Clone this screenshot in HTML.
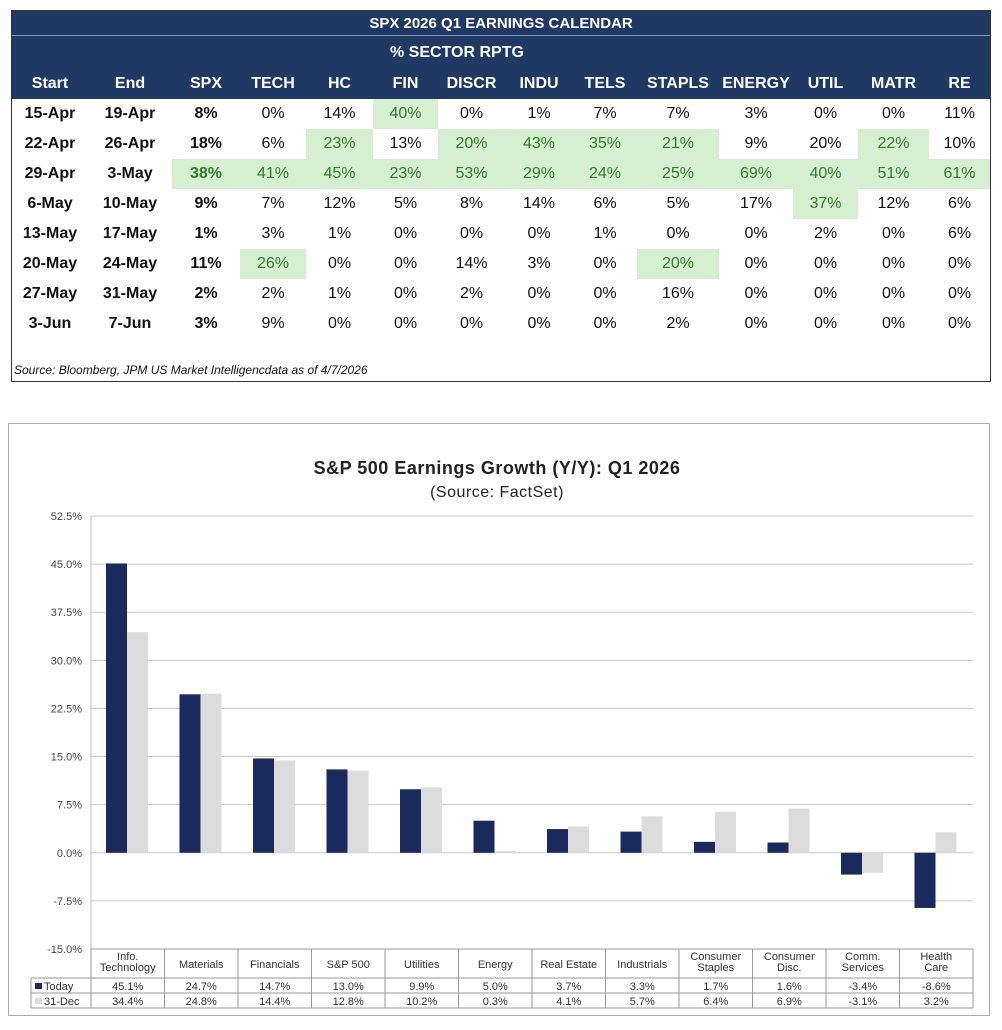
<!DOCTYPE html>
<html><head><meta charset="utf-8">
<style>
body{margin:0;width:1002px;height:1030px;background:#fff;position:relative;font-family:"Liberation Sans",Arial,sans-serif;overflow:hidden}
#cal{position:absolute;left:11px;top:10px;width:980px;height:372px;border:1px solid #333;box-sizing:border-box}
#cal table{border-collapse:collapse;table-layout:fixed;width:978px}
#cal td{text-align:center;font-size:16px;height:30px;padding:0;color:#111}
.hd{background:#1f3864;color:#fff!important;font-weight:bold}
.g{background:#d6efd0;color:#2f7a2b!important}
.b{font-weight:bold}
#src{position:absolute;left:2px;top:352px;font-size:12px;font-style:italic;color:#111}
#chart{position:absolute;left:0;top:0}
</style></head><body>
<div id="cal">
<table>
<colgroup><col style="width:76px"><col style="width:84px"><col style="width:68px"><col style="width:66px"><col style="width:67px"><col style="width:65px"><col style="width:67px"><col style="width:68px"><col style="width:64px"><col style="width:82px"><col style="width:74px"><col style="width:65px"><col style="width:71px"><col style="width:61px"></colgroup>
<tr><td colspan="14" class="hd" style="height:24px;font-size:15px;border-bottom:1px solid #8a9bbd">SPX 2026 Q1 EARNINGS CALENDAR</td></tr>
<tr><td colspan="3" class="hd" style="height:33px"></td><td colspan="11" class="hd" style="height:33px;text-align:left;padding-left:150px">% SECTOR RPTG</td></tr>
<tr class="hd"><td class="hd" style="height:25px">Start</td><td class="hd">End</td><td class="hd">SPX</td><td class="hd">TECH</td><td class="hd">HC</td><td class="hd">FIN</td><td class="hd">DISCR</td><td class="hd">INDU</td><td class="hd">TELS</td><td class="hd">STAPLS</td><td class="hd">ENERGY</td><td class="hd">UTIL</td><td class="hd">MATR</td><td class="hd">RE</td></tr>
<tr><td class="b">15-Apr</td><td class="b">19-Apr</td><td class="b">8%</td><td>0%</td><td>14%</td><td class="g">40%</td><td>0%</td><td>1%</td><td>7%</td><td>7%</td><td>3%</td><td>0%</td><td>0%</td><td>11%</td></tr>
<tr><td class="b">22-Apr</td><td class="b">26-Apr</td><td class="b">18%</td><td>6%</td><td class="g">23%</td><td>13%</td><td class="g">20%</td><td class="g">43%</td><td class="g">35%</td><td class="g">21%</td><td>9%</td><td>20%</td><td class="g">22%</td><td>10%</td></tr>
<tr><td class="b">29-Apr</td><td class="b">3-May</td><td class="g b">38%</td><td class="g">41%</td><td class="g">45%</td><td class="g">23%</td><td class="g">53%</td><td class="g">29%</td><td class="g">24%</td><td class="g">25%</td><td class="g">69%</td><td class="g">40%</td><td class="g">51%</td><td class="g">61%</td></tr>
<tr><td class="b">6-May</td><td class="b">10-May</td><td class="b">9%</td><td>7%</td><td>12%</td><td>5%</td><td>8%</td><td>14%</td><td>6%</td><td>5%</td><td>17%</td><td class="g">37%</td><td>12%</td><td>6%</td></tr>
<tr><td class="b">13-May</td><td class="b">17-May</td><td class="b">1%</td><td>3%</td><td>1%</td><td>0%</td><td>0%</td><td>0%</td><td>1%</td><td>0%</td><td>0%</td><td>2%</td><td>0%</td><td>6%</td></tr>
<tr><td class="b">20-May</td><td class="b">24-May</td><td class="b">11%</td><td class="g">26%</td><td>0%</td><td>0%</td><td>14%</td><td>3%</td><td>0%</td><td class="g">20%</td><td>0%</td><td>0%</td><td>0%</td><td>0%</td></tr>
<tr><td class="b">27-May</td><td class="b">31-May</td><td class="b">2%</td><td>2%</td><td>1%</td><td>0%</td><td>2%</td><td>0%</td><td>0%</td><td>16%</td><td>0%</td><td>0%</td><td>0%</td><td>0%</td></tr>
<tr><td class="b">3-Jun</td><td class="b">7-Jun</td><td class="b">3%</td><td>9%</td><td>0%</td><td>0%</td><td>0%</td><td>0%</td><td>0%</td><td>2%</td><td>0%</td><td>0%</td><td>0%</td><td>0%</td></tr>
</table>
<div id="src">Source: Bloomberg, JPM US Market Intelligencdata as of 4/7/2026</div>
</div>
<svg id="chart" width="1002" height="1030"></svg>
<script>
const categories=["Info.|Technology","Materials","Financials","S&P 500","Utilities","Energy","Real Estate","Industrials","Consumer|Staples","Consumer|Disc.","Comm.|Services","Health|Care"];
const todayVals=[45.1,24.7,14.7,13.0,9.9,5.0,3.7,3.3,1.7,1.6,-3.4,-8.6];
const decVals=[34.4,24.8,14.4,12.8,10.2,0.3,4.1,5.7,6.4,6.9,-3.1,3.2];
const todayLabels=["45.1%","24.7%","14.7%","13.0%","9.9%","5.0%","3.7%","3.3%","1.7%","1.6%","-3.4%","-8.6%"];
const decLabels=["34.4%","24.8%","14.4%","12.8%","10.2%","0.3%","4.1%","5.7%","6.4%","6.9%","-3.1%","3.2%"];
const yTicks=[52.5,45,37.5,30,22.5,15,7.5,0,-7.5,-15];
const yTickLabels=["52.5%","45.0%","37.5%","30.0%","22.5%","15.0%","7.5%","0.0%","-7.5%","-15.0%"];
const svg=document.getElementById('chart');const NS='http://www.w3.org/2000/svg';
const X0=91,X1=973,Ytop=516,Ybot=949,vMax=52.5,vMin=-15;
const y=v=>Ytop+(vMax-v)/(vMax-vMin)*(Ybot-Ytop);
const cw=(X1-X0)/categories.length;const x=i=>X0+i*cw;
function mk(t,a,txt){const e=document.createElementNS(NS,t);for(const k in a)e.setAttribute(k,a[k]);if(txt!=null)e.textContent=txt;svg.appendChild(e);return e;}
let e;
e=mk('rect',{x:8.5,y:423.5,width:981,height:592,fill:'#fff',stroke:'#aaa'});

e=mk('text',{x:497,y:474,'text-anchor':'middle','font-size':18,'font-weight':'bold',fill:'#222','letter-spacing':'0.5'},'S&P 500 Earnings Growth (Y/Y): Q1 2026');

e=mk('text',{x:497,y:497,'text-anchor':'middle','font-size':16,fill:'#222','letter-spacing':'0.5'},'(Source: FactSet)');

yTicks.forEach((v,i)=>{
 e=mk('line',{x1:X0,x2:X1,y1:y(v),y2:y(v),stroke:'#c8c8c8','stroke-width':1});
 
 e=mk('text',{x:82,y:y(v)+4,'text-anchor':'end','font-size':11,fill:'#444'},yTickLabels[i]);
 
});
mk('line',{x1:X0,x2:X0,y1:Ytop,y2:Ybot,stroke:'#bbb'});
const bw=21,off=15;
categories.forEach((c,i)=>{
 const a=todayVals[i],b=decVals[i];
 e=mk('rect',{x:x(i)+off,y:Math.min(y(a),y(0)),width:bw,height:Math.abs(y(a)-y(0)),fill:'#1b2a5c'});
 
 e=mk('rect',{x:x(i)+off+bw,y:Math.min(y(b),y(0)),width:bw,height:Math.abs(y(b)-y(0)),fill:'#dcdcdc'});
 
});
const r0=949,r1=978,r2=993,r3=1008,L=31;
[r0,r1,r2,r3].forEach((ry,k)=>{mk('line',{x1:k==0?X0:L,x2:X1,y1:ry,y2:ry,stroke:'#999'});});
mk('line',{x1:L,x2:L,y1:r1,y2:r3,stroke:'#999'});
for(let i=0;i<=categories.length;i++)mk('line',{x1:x(i),x2:x(i),y1:r0,y2:r3,stroke:'#999'});
categories.forEach((c,i)=>{
 const parts=c.split('|');const cx=x(i)+cw/2;
 parts.forEach((p,j)=>{e=mk('text',{x:cx,y:parts.length>1?r0+11+j*11:r0+19,'text-anchor':'middle','font-size':11,fill:'#333'},p);
 });
 e=mk('text',{x:cx,y:r1+12,'text-anchor':'middle','font-size':11,fill:'#333'},todayLabels[i]);
 
 e=mk('text',{x:cx,y:r2+12,'text-anchor':'middle','font-size':11,fill:'#333'},decLabels[i]);
 
});
e=mk('rect',{x:35,y:r1+5,width:7,height:6,fill:'#1b2a5c'});

e=mk('text',{x:44,y:r1+12,'font-size':11,fill:'#333'},'Today');

e=mk('rect',{x:35,y:r2+5,width:7,height:6,fill:'#dcdcdc'});

e=mk('text',{x:44,y:r2+12,'font-size':11,fill:'#333'},'31-Dec');

</script>
</body></html>
